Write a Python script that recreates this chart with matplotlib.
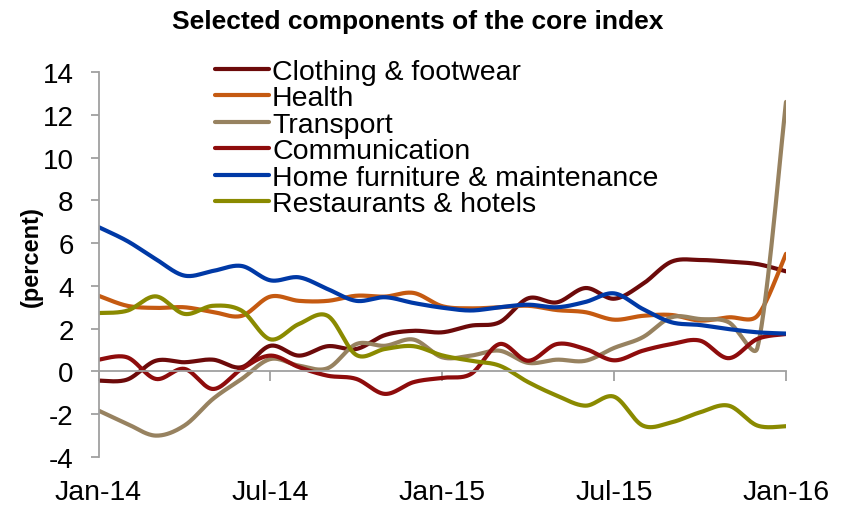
import numpy as np
import matplotlib
matplotlib.use("Agg")
import matplotlib.pyplot as plt
from matplotlib.lines import Line2D

plt.rcParams['font.family'] = ['Liberation Sans', 'DejaVu Sans']

# Monthly observations, Jan-14 .. Jan-16 (percent)
months = ["Jan-14", "Feb-14", "Mar-14", "Apr-14", "May-14", "Jun-14", "Jul-14",
          "Aug-14", "Sep-14", "Oct-14", "Nov-14", "Dec-14", "Jan-15", "Feb-15",
          "Mar-15", "Apr-15", "May-15", "Jun-15", "Jul-15", "Aug-15", "Sep-15",
          "Oct-15", "Nov-15", "Dec-15", "Jan-16"]

clothing = [-0.43, -0.38, 0.5, 0.43, 0.55, 0.2, 1.2, 0.74, 1.18, 1.05, 1.7, 1.9,
            1.83, 2.14, 2.3, 3.42, 3.23, 3.9, 3.4, 4.09, 5.13, 5.21, 5.13, 5.02, 4.68]
health = [3.54, 3.07, 2.97, 3.0, 2.78, 2.6, 3.5, 3.3, 3.3, 3.54, 3.5, 3.67,
          3.05, 2.95, 3.0, 3.07, 2.87, 2.77, 2.42, 2.6, 2.64, 2.38, 2.53, 2.6, 5.5]
transport = [-1.83, -2.45, -3.0, -2.53, -1.28, -0.35, 0.58, 0.27, 0.15, 1.28, 1.2, 1.49,
             0.66, 0.74, 0.97, 0.4, 0.55, 0.5, 1.1, 1.6, 2.53, 2.45, 2.3, 1.1, 12.6]
communication = [0.55, 0.66, -0.35, 0.12, -0.82, 0.12, 0.74, 0.2, -0.2, -0.35, -1.05, -0.5,
                 -0.3, -0.12, 1.28, 0.5, 1.28, 1.05, 0.52, 0.97, 1.28, 1.44, 0.62, 1.52, 1.75]
home_furniture = [6.75, 6.1, 5.25, 4.48, 4.7, 4.93, 4.26, 4.4, 3.85, 3.3, 3.47, 3.2,
                  2.98, 2.85, 3.0, 3.12, 3.0, 3.25, 3.65, 2.92, 2.3, 2.17, 1.98, 1.83, 1.77]
restaurants = [2.73, 2.84, 3.51, 2.69, 3.07, 2.84, 1.5, 2.22, 2.6, 0.77, 1.05, 1.18,
               0.75, 0.5, 0.27, -0.5, -1.13, -1.6, -1.18, -2.53, -2.38, -1.91, -1.6, -2.53, -2.56]

series_names = ["Clothing & footwear", "Health", "Transport", "Communication",
                "Home furniture & maintenance", "Restaurants & hotels"]
series_values = [clothing, health, transport, communication, home_furniture, restaurants]
series_colors = ["#6C0A0A", "#C55A11", "#978260", "#8E0C0C", "#0039A6", "#8A8A00"]

y_ticks = [-4, -2, 0, 2, 4, 6, 8, 10, 12, 14]
x_label_months = ["Jan-14", "Jul-14", "Jan-15", "Jul-15", "Jan-16"]

W, H = 842, 506
AX_LEFT, AX_RIGHT, AX_TOP, AX_BOTTOM = 98.5, 786, 73, 458
X_SCALE = (AX_RIGHT - AX_LEFT) / (len(months) - 1)   # px per month
Y_SCALE = (AX_BOTTOM - AX_TOP) / 18.0                 # px per percentage point


def smooth(y, n=30):
    """Smoothed line through the points: cubic Bezier segments with
    Catmull-Rom tangents, arms shortened where a neighbouring segment is short."""
    y = np.asarray(y, dtype=float)
    x = np.arange(len(y), dtype=float)
    # work in screen-proportional units so arm clamping is isotropic
    P = np.column_stack([x * X_SCALE, y * Y_SCALE])
    m = len(P)
    tang = np.empty_like(P)
    for i in range(m):
        a = P[max(i - 1, 0)]
        b = P[min(i + 1, m - 1)]
        tang[i] = (b - a) / 6.0
    t = np.linspace(0, 1, n, endpoint=False)[:, None]
    out = []
    for i in range(m - 1):
        p0, p3 = P[i], P[i + 1]
        seg = np.linalg.norm(p3 - p0)
        a0 = tang[i]
        a1 = tang[i + 1]
        k = 0.36 * seg
        if np.linalg.norm(a0) > k:
            a0 = a0 * k / np.linalg.norm(a0)
        if np.linalg.norm(a1) > k:
            a1 = a1 * k / np.linalg.norm(a1)
        c1 = p0 + a0
        c2 = p3 - a1
        b = (1 - t) ** 3 * p0 + 3 * (1 - t) ** 2 * t * c1 + 3 * (1 - t) * t ** 2 * c2 + t ** 3 * p3
        out.append(b)
    out.append(P[-1:])
    B = np.vstack(out)
    return B[:, 0] / X_SCALE, B[:, 1] / Y_SCALE


fig = plt.figure(figsize=(W / 100, H / 100), dpi=100)
ax = fig.add_axes([AX_LEFT / W, 1 - AX_BOTTOM / H,
                   (AX_RIGHT - AX_LEFT) / W, (AX_BOTTOM - AX_TOP) / H])

lw = 3.0
for vals, col in zip(series_values, series_colors):
    sx, sy = smooth(vals)
    ax.plot(sx, sy, color=col, lw=lw, solid_capstyle='round', solid_joinstyle='round')

gray = "#A0A0A0"
ax.set_xlim(0, len(months) - 1)
ax.set_ylim(-4, 14)
ax.set_yticks(y_ticks)
ax.set_yticklabels([str(v) for v in y_ticks])
for s in ("top", "right"):
    ax.spines[s].set_visible(False)
ax.spines["left"].set_color(gray)
ax.spines["left"].set_linewidth(1.3)
ax.spines["bottom"].set_position(("data", 0))
ax.spines["bottom"].set_color(gray)
ax.spines["bottom"].set_linewidth(1.3)
ax.tick_params(axis="y", direction="out", length=6, width=1.3, color=gray,
               labelsize=20, pad=12)
tick_pos = [months.index(m) for m in x_label_months]
ax.set_xticks(tick_pos)
ax.tick_params(axis="x", direction="out", length=7, width=1.3, color=gray,
               labelbottom=False)

# category labels sit below the plot area
sec = ax.secondary_xaxis("bottom")
sec.set_xticks(tick_pos)
sec.set_xticklabels(x_label_months)
sec.spines["bottom"].set_visible(False)
sec.tick_params(axis="x", length=0, labelsize=20.5, pad=16)

fig.text(417.5 / W, 1 - 22 / H, "Selected components of the core index",
         ha="center", va="center", fontsize=19, fontweight="bold")
fig.text(31 / W, 1 - 257 / H, "(percent)", rotation=90, ha="center", va="center",
         fontsize=17, fontweight="bold")

# legend block
for k, (name, col) in enumerate(zip(series_names, series_colors)):
    yy = 1 - (70 + 26.4 * k) / H
    fig.add_artist(Line2D([215 / W, 269 / W], [yy, yy], transform=fig.transFigure,
                          color=col, lw=lw, solid_capstyle='round'))
    fig.text(272 / W, yy, name, ha="left", va="center_baseline", fontsize=20.5)

fig.savefig("out.png", dpi=100)
